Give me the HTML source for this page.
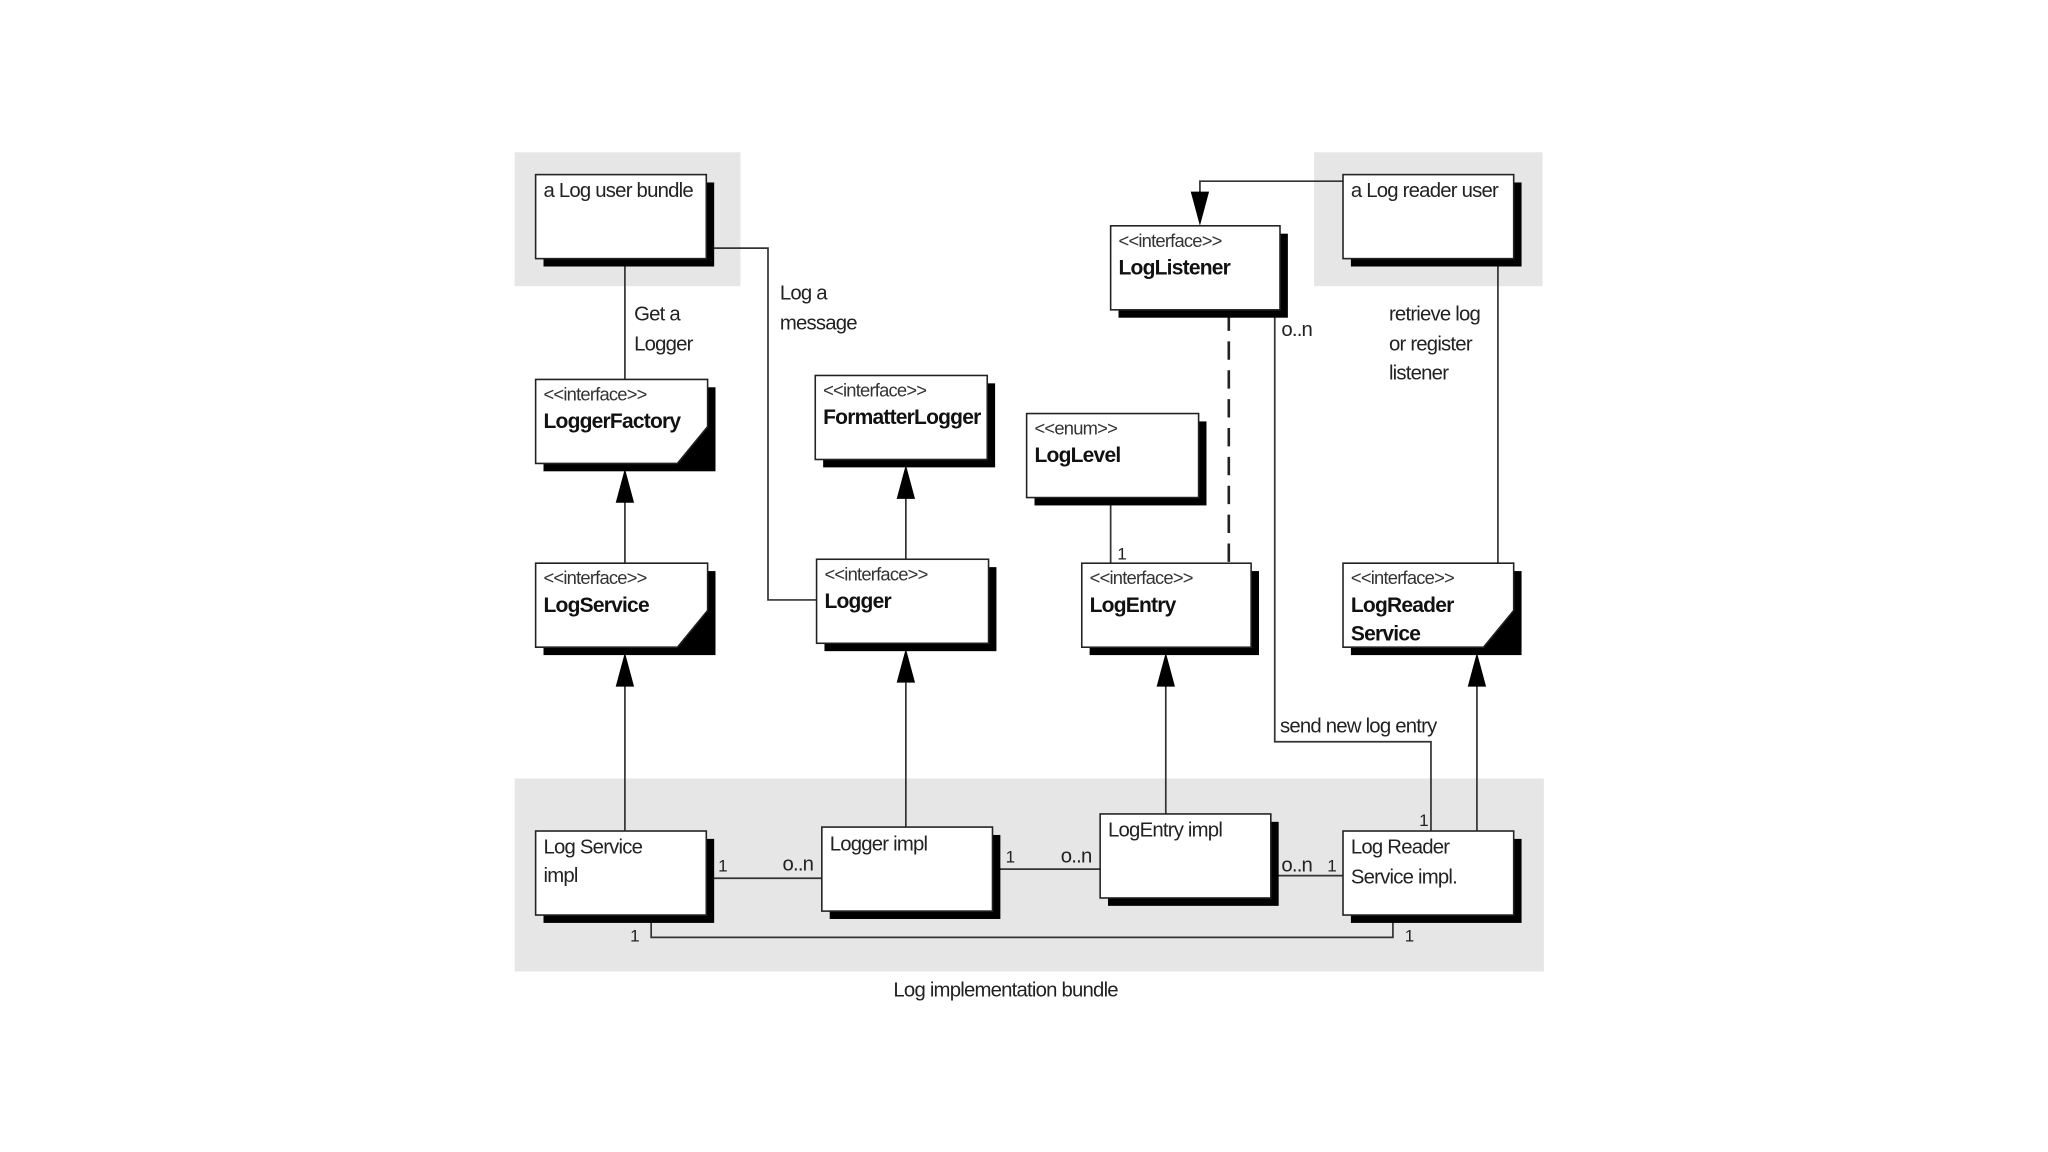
<!DOCTYPE html>
<html><head><meta charset="utf-8"><style>
html,body{margin:0;padding:0;background:#fff;}
svg{display:block;}
text{font-family:"Liberation Sans",sans-serif;fill:#222;}
.n{font-size:15.5px;letter-spacing:-0.6px;}
.s{font-size:14px;letter-spacing:-0.6px;fill:#333;}
.b{font-size:16px;font-weight:bold;letter-spacing:-0.6px;fill:#111;}
.m{font-size:13px;fill:#222;}
</style></head><body>
<svg width="2048" height="1152" viewBox="0 0 1560 877.5" xmlns="http://www.w3.org/2000/svg">
<defs>
<marker id="a" markerWidth="14" markerHeight="26" refX="7" refY="0" orient="auto" markerUnits="userSpaceOnUse" viewBox="0 0 14 26"></marker>
</defs>
<!-- gray regions -->
<rect x="392" y="116" width="172" height="102" fill="#e6e6e6"/>
<rect x="1001" y="116" width="174" height="102" fill="#e6e6e6"/>
<rect x="392" y="593" width="784" height="147" fill="#e6e6e6"/>

<g stroke="#333" stroke-width="1.3" fill="none">
<!-- connectors -->
<line x1="476" y1="197" x2="476" y2="289"/>
<polyline points="538,189 585,189 585,457 622,457"/>
<line x1="476" y1="429" x2="476" y2="380"/>
<line x1="690" y1="426" x2="690" y2="377"/>
<line x1="846" y1="379" x2="846" y2="429"/>
<line x1="936" y1="238" x2="936" y2="429" stroke-width="2" stroke-dasharray="14,8" stroke="#222"/>
<polyline points="971,236 971,565 1090,565 1090,633"/>
<polyline points="1023,138 914,138 914,150"/>
<line x1="1141" y1="197" x2="1141" y2="429"/>
<line x1="476" y1="633" x2="476" y2="522"/>
<line x1="690" y1="630" x2="690" y2="520"/>
<line x1="888" y1="620" x2="888" y2="522"/>
<line x1="1125" y1="633" x2="1125" y2="522"/>
<line x1="538" y1="669" x2="626" y2="669"/>
<line x1="756" y1="662" x2="838" y2="662"/>
<line x1="968" y1="667" x2="1023" y2="667"/>
<polyline points="496,697 496,714 1061,714 1061,697"/>
</g>
<!-- arrowheads -->
<g fill="#000">
<polygon points="476,357 469,383 483,383"/>
<polygon points="690,354 683,380 697,380"/>
<polygon points="914,172 907,146 921,146"/>
<polygon points="476,497 469,523 483,523"/>
<polygon points="690,494 683,520 697,520"/>
<polygon points="888,497 881,523 895,523"/>
<polygon points="1125,497 1118,523 1132,523"/>
</g>

<!-- boxes: shadow + white -->
<g stroke="#222" stroke-width="1.2">
<!-- plain boxes -->
<g>
<rect x="414" y="139" width="130" height="64" fill="#000" stroke="none"/>
<rect x="408" y="133" width="130" height="64" fill="#fff"/>
<rect x="1029" y="139" width="130" height="64" fill="#000" stroke="none"/>
<rect x="1023" y="133" width="130" height="64" fill="#fff"/>
<rect x="852" y="178" width="129" height="64" fill="#000" stroke="none"/>
<rect x="846" y="172" width="129" height="64" fill="#fff"/>
<rect x="627" y="292" width="131" height="64" fill="#000" stroke="none"/>
<rect x="621" y="286" width="131" height="64" fill="#fff"/>
<rect x="788" y="321" width="131" height="64" fill="#000" stroke="none"/>
<rect x="782" y="315" width="131" height="64" fill="#fff"/>
<rect x="628" y="432" width="131" height="64" fill="#000" stroke="none"/>
<rect x="622" y="426" width="131" height="64" fill="#fff"/>
<rect x="830" y="435" width="129" height="64" fill="#000" stroke="none"/>
<rect x="824" y="429" width="129" height="64" fill="#fff"/>
<rect x="414" y="639" width="130" height="64" fill="#000" stroke="none"/>
<rect x="408" y="633" width="130" height="64" fill="#fff"/>
<rect x="632" y="636" width="130" height="64" fill="#000" stroke="none"/>
<rect x="626" y="630" width="130" height="64" fill="#fff"/>
<rect x="844" y="626" width="130" height="64" fill="#000" stroke="none"/>
<rect x="838" y="620" width="130" height="64" fill="#fff"/>
<rect x="1029" y="639" width="130" height="64" fill="#000" stroke="none"/>
<rect x="1023" y="633" width="130" height="64" fill="#fff"/>
</g>
<!-- folded boxes -->
<rect x="414" y="295" width="131" height="64" fill="#000" stroke="none"/>
<polygon points="408,289 539,289 539,325 516,353 408,353" fill="#fff"/>
<rect x="414" y="435" width="131" height="64" fill="#000" stroke="none"/>
<polygon points="408,429 539,429 539,465 516,493 408,493" fill="#fff"/>
<rect x="1029" y="435" width="130" height="64" fill="#000" stroke="none"/>
<polygon points="1023,429 1153,429 1153,465 1130,493 1023,493" fill="#fff"/>
</g>

<!-- box text -->
<text class="n" x="414" y="150">a Log user bundle</text>
<text class="n" x="1029" y="150">a Log reader user</text>
<text class="s" x="852" y="188">&lt;&lt;interface&gt;&gt;</text>
<text class="b" x="852" y="209">LogListener</text>
<text class="s" x="414" y="305">&lt;&lt;interface&gt;&gt;</text>
<text class="b" x="414" y="326">LoggerFactory</text>
<text class="s" x="627" y="302">&lt;&lt;interface&gt;&gt;</text>
<text class="b" x="627" y="323">FormatterLogger</text>
<text class="s" x="788" y="331">&lt;&lt;enum&gt;&gt;</text>
<text class="b" x="788" y="352">LogLevel</text>
<text class="s" x="414" y="445">&lt;&lt;interface&gt;&gt;</text>
<text class="b" x="414" y="466">LogService</text>
<text class="s" x="628" y="442">&lt;&lt;interface&gt;&gt;</text>
<text class="b" x="628" y="463">Logger</text>
<text class="s" x="830" y="445">&lt;&lt;interface&gt;&gt;</text>
<text class="b" x="830" y="466">LogEntry</text>
<text class="s" x="1029" y="445">&lt;&lt;interface&gt;&gt;</text>
<text class="b" x="1029" y="466">LogReader</text>
<text class="b" x="1029" y="488">Service</text>
<text class="n" x="414" y="650">Log Service</text>
<text class="n" x="414" y="672">impl</text>
<text class="n" x="632" y="648">Logger impl</text>
<text class="n" x="844" y="637">LogEntry impl</text>
<text class="n" x="1029" y="650">Log Reader</text>
<text class="n" x="1029" y="673">Service impl.</text>

<!-- labels -->
<text class="n" x="483" y="244">Get a</text>
<text class="n" x="483" y="267">Logger</text>
<text class="n" x="594" y="228">Log a</text>
<text class="n" x="594" y="251">message</text>
<text class="n" x="1058" y="244">retrieve log</text>
<text class="n" x="1058" y="267">or register</text>
<text class="n" x="1058" y="289">listener</text>
<text class="n" x="976" y="256">o..n</text>
<text class="n" x="975" y="558">send new log entry</text>
<text class="m" x="851" y="426">1</text>
<text class="m" x="1081" y="629">1</text>
<text class="m" x="547" y="664">1</text>
<text class="n" x="596" y="663">o..n</text>
<text class="m" x="766" y="657">1</text>
<text class="n" x="808" y="657">o..n</text>
<text class="n" x="976" y="664">o..n</text>
<text class="m" x="1011" y="664">1</text>
<text class="m" x="480" y="717">1</text>
<text class="m" x="1070" y="717">1</text>
<text class="n" x="766" y="759" text-anchor="middle">Log implementation bundle</text>
</svg>
</body></html>
